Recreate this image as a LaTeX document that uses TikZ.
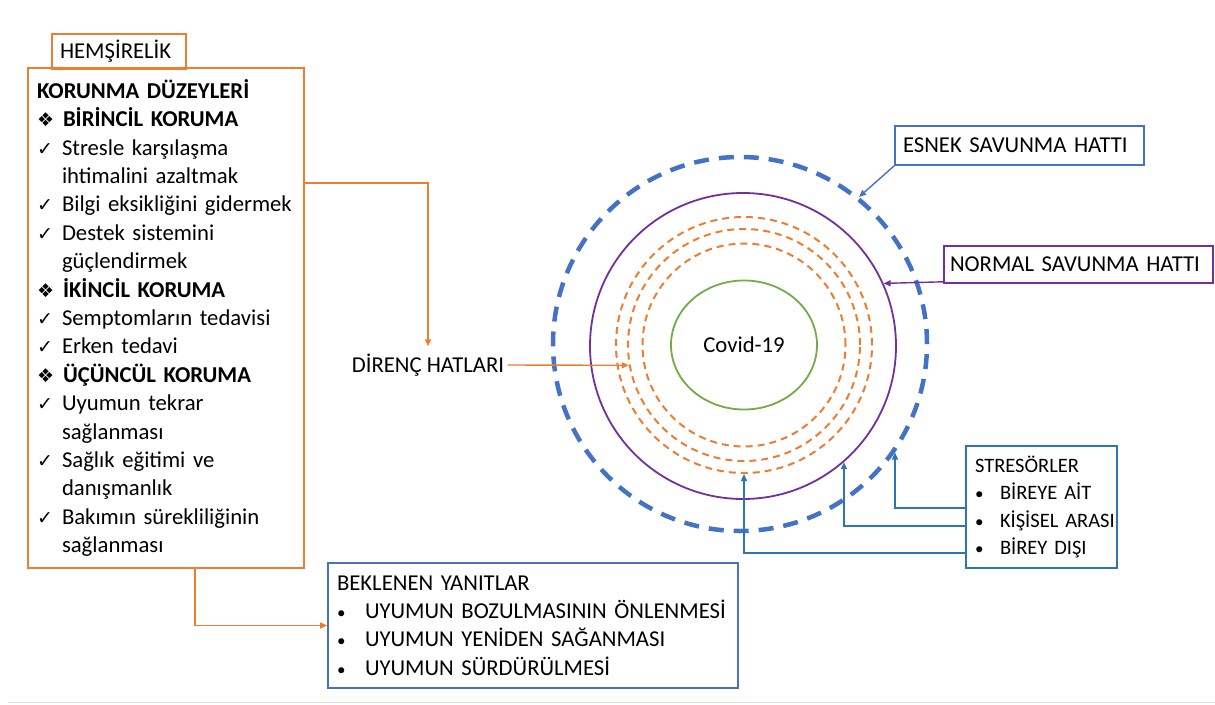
\documentclass[tikz,border=0pt]{standalone}
\usepackage{fontspec}
\setmainfont{Carlito}
\newfontfamily\symfont{DejaVu Sans}
\usepackage{xcolor}
\usetikzlibrary{arrows.meta,shapes.geometric}
\definecolor{offorange}{HTML}{ED7D31}
\definecolor{offblue}{HTML}{4472C4}
\definecolor{offpurple}{HTML}{7030A0}
\definecolor{offgreen}{HTML}{70AD47}
\definecolor{strblue}{HTML}{2E75B6}
\newcommand{\chk}{\makebox[25pt][l]{\symfont\fontsize{19}{19}\selectfont ✓}}
\newcommand{\dmd}{\makebox[26pt][l]{\symfont\fontsize{19}{19}\selectfont ❖}}
\newcommand{\chkind}{\hspace*{25pt}}
\newcommand{\blt}[2]{\mbox{\makebox[#1][l]{\fontsize{17}{17}\selectfont •}#2}}

\begin{document}
\begin{tikzpicture}[x=1pt,y=-1pt,font=\fontsize{22.7}{28.4}\selectfont,box/.style={draw=#1,line width=1.6pt,inner xsep=8pt,inner ysep=0pt,align=left},arr/.style={draw=#1,line width=1.4pt,-{Triangle[length=7pt,width=6pt]}},ring/.style={circle,draw=offorange,line width=2pt,dash pattern=on 7pt off 5pt,minimum size=#1}]
\useasboundingbox (0,0) rectangle (1215,704);
\draw[black!12,line width=1pt] (8,702) -- (1215,702);
\node[box=offorange,text width=118pt,minimum height=35pt] (hems) at (119,51.5) {HEMŞİRELİK};
\node[box=offorange,text width=258pt,inner xsep=9pt,minimum height=500pt] (korunma) at (166,318) {\textbf{KORUNMA DÜZEYLERİ}\\ \dmd\textbf{BİRİNCİL KORUMA}\\ \chk Stresle karşılaşma\\ \chkind ihtimalini azaltmak\\ \chk Bilgi eksikliğini gidermek\\ \chk Destek sistemini\\ \chkind güçlendirmek\\ \dmd\textbf{İKİNCİL KORUMA}\\ \chk Semptomların tedavisi\\ \chk Erken tedavi\\ \dmd\textbf{ÜÇÜNCÜL KORUMA}\\ \chk Uyumun tekrar\\ \chkind sağlanması\\ \chk Sağlık eğitimi ve\\ \chkind danışmanlık\\ \chk Bakımın sürekliliğinin\\ \chkind sağlanması};
\node[circle,draw=offblue,line width=4.5pt,dash pattern=on 15pt off 10pt,minimum size=374pt] (flex) at (740,344) {};
\node[circle,draw=offpurple,line width=1.8pt,minimum size=306pt] (normal) at (743,346) {};
\node[ring=256pt] (res1) at (744,345) {};
\node[ring=232pt] (res2) at (744,345) {};
\node[ring=203pt] (res3) at (744,345) {};
\node[ellipse,draw=offgreen,line width=1.8pt,minimum width=146pt,minimum height=129pt] (core) at (744,345) {Covid-19};
\node (direnc) at (428,365) {DİRENÇ HATLARI};
\node[box=offblue,text width=233pt,minimum height=39pt] (esnek) at (1019.5,145.5) {ESNEK SAVUNMA HATTI};
\node[box=offpurple,text width=257pt,inner xsep=6pt,minimum height=37pt] (normlbl) at (1078.5,264.5) {NORMAL SAVUNMA HATTI};
\node[box=strblue,text width=133pt,inner xsep=9pt,minimum height=122pt,font=\fontsize{20.5}{27.5}\selectfont] (stres) at (1041.5,507) {STRESÖRLER\\ \blt{25pt}{BİREYE AİT}\\ \blt{25pt}{KİŞİSEL ARASI}\\ \blt{25pt}{BİREY DIŞI}};
\node[box=offblue,text width=392pt,inner xsep=9pt,minimum height=125pt] (beklenen) at (533,625.5) {BEKLENEN YANITLAR\\ \blt{28pt}{UYUMUN BOZULMASININ ÖNLENMESİ}\\ \blt{28pt}{UYUMUN YENİDEN SAĞANMASI}\\ \blt{28pt}{UYUMUN SÜRDÜRÜLMESİ}};
\draw[arr=offorange] ([yshift=135pt]korunma.east) -| ([yshift=4pt]direnc.north);
\draw[arr=offorange] (direnc.east) -- (res2.190);
\draw[arr=offorange] ([xshift=29pt]korunma.south) |- (beklenen.west);
\draw[arr=offblue] (esnek.south west) -- (flex.51);
\draw[arr=offpurple] ([yshift=2pt]normlbl.south west) -- (normal.24);
\draw[arr=strblue] ([yshift=-1pt]stres.west) -| (flex.-35);
\draw[arr=strblue] ([yshift=-19pt]stres.west) -| (normal.-49);
\draw[arr=strblue] ([yshift=-46pt]stres.west) -| (res1.-90);
\end{tikzpicture}
\end{document}
